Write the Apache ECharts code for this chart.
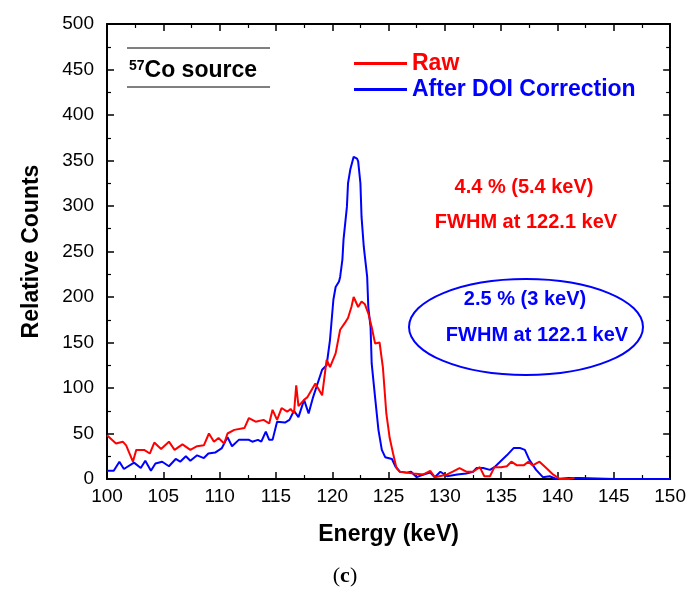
<!DOCTYPE html>
<html>
<head>
<meta charset="utf-8">
<script src="https://cdn.jsdelivr.net/npm/echarts@6/dist/echarts.min.js"></script>
<style>html,body{margin:0;padding:0;background:#fff}#c{width:689px;height:599px}</style>
</head>
<body>
<div id="c"></div>
<script>
// Energy (keV) and counts for the raw spectrum
const rawEnergy = [100.0,100.8,101.4,101.7,102.3,102.6,103.3,103.8,104.2,104.8,105.5,106.0,106.7,107.4,108.0,108.6,109.05,109.5,109.9,110.4,110.7,111.3,112.2,112.6,113.2,113.9,114.4,114.7,115.1,115.5,116.0,116.3,116.6,116.8,117.0,117.5,117.8,118.5,119.1,119.5,119.8,120.3,120.7,121.2,121.4,121.7,121.9,122.3,122.6,122.9,123.2,123.5,123.8,124.2,124.5,124.8,125.1,125.4,125.7,126.0,126.6,127.2,128.1,128.7,129.1,130.2,130.7,131.3,131.9,132.5,133.1,133.5,134.0,134.4,135.0,135.5,135.9,136.4,137.0,137.4,137.8,138.4,139.0,139.6,140.2,141.0,141.5];
const rawCounts = [48,39,41,37,19,32,32,28,40,33,41,32,38,32,36,37,50,41,45,39,50,54,56,67,63,65,61,76,65,78,74,77,72,103,80,87,90,105,92,131,123,138,164,173,177,189,200,189,195,192,182,167,149,150,122,72,45,28,12,8,7,6,5,9,2,5,8,12,8,8,13,3,3,13,13,14,19,15,15,19,15,19,12,5,0,0,1];
// Energy (keV) and counts after DOI correction
const doiEnergy = [100.0,100.6,101.1,101.5,102.4,103.0,103.4,103.9,104.3,104.9,105.5,106.1,106.5,107.0,107.4,108.0,108.6,109.0,109.6,110.2,110.7,111.1,111.7,112.6,112.9,113.4,113.7,114.1,114.4,114.7,115.1,115.8,116.2,116.6,117.0,117.5,117.9,118.3,119.1,119.5,119.8,120.1,120.3,120.6,120.7,120.9,121.0,121.3,121.4,121.6,121.9,122.2,122.3,122.5,122.6,122.8,123.1,123.2,123.4,123.5,123.8,124.1,124.4,124.7,125.3,125.6,126.0,126.6,127.0,127.5,128.1,128.7,129.1,129.6,130.2,131.1,131.9,132.5,132.8,133.4,134.0,134.4,134.9,135.5,136.1,136.7,137.1,137.5,138.1,138.7,139.3,139.9,141.0,142.0,145.0,150.0];
const doiCounts = [9,9,19,11,18,12,20,9,17,19,14,22,19,25,20,26,23,28,29,34,46,36,43,43,41,43,41,52,43,43,63,62,65,75,68,87,72,90,120,125,153,197,211,217,222,241,263,299,325,340,354,352,349,325,288,255,222,189,167,127,90,54,32,24,22,14,8,7,8,2,5,7,2,8,3,5,6,8,12,12,10,13,19,26,34,34,32,21,10,2,3,0,1,1,0,0];
const seriesNames = ['Raw','After DOI Correction'];
const xTicks = {min:100, max:150, interval:5};
const yTicks = {min:0, max:500, interval:50};

const zip = (a,b) => a.map((e,i)=>[e,b[i]]);
const FONT = 'Liberation Sans, Arial, sans-serif';
const chart = echarts.init(document.getElementById('c'), null, {renderer:'canvas'});
const axisBase = {
  axisLine:{show:true, onZero:false, lineStyle:{color:'#000', width:2}},
  axisTick:{show:true, inside:true, length:7, lineStyle:{color:'#000', width:1.5}},
  minorTick:{show:true, splitNumber:2, length:4, lineStyle:{color:'#000', width:1.2}},
  splitLine:{show:false}
};
chart.setOption({
  backgroundColor:'#fff',
  animation:false,
  grid:{left:107, right:18, top:24, bottom:120, containLabel:false},
  legend:{
    orient:'vertical', left:349, top:47, itemGap:3, itemWidth:53, itemHeight:3,
    icon:'rect',
    textStyle:{fontFamily:FONT, fontSize:23, fontWeight:'bold'},
    data:[
      {name:'Raw', textStyle:{color:'#ff0000'}},
      {name:'After DOI Correction', textStyle:{color:'#0000ff'}}
    ]
  },
  xAxis:[
    Object.assign({type:'value', position:'bottom', min:xTicks.min, max:xTicks.max, interval:xTicks.interval,
      name:'Energy (keV)', nameLocation:'middle', nameGap:44,
      nameTextStyle:{fontFamily:FONT, fontSize:23, fontWeight:'bold', color:'#000'},
      axisLabel:{fontFamily:FONT, fontSize:19, color:'#000', margin:8}}, axisBase),
    Object.assign({type:'value', position:'top', min:xTicks.min, max:xTicks.max, interval:xTicks.interval,
      axisLabel:{show:false}}, axisBase)
  ],
  yAxis:[
    Object.assign({type:'value', position:'left', min:yTicks.min, max:yTicks.max, interval:yTicks.interval,
      name:'Relative Counts', nameLocation:'middle', nameGap:64,
      nameTextStyle:{fontFamily:FONT, fontSize:23, fontWeight:'bold', color:'#000'},
      axisLabel:{fontFamily:FONT, fontSize:19, color:'#000', margin:13}}, axisBase),
    Object.assign({type:'value', position:'right', min:yTicks.min, max:yTicks.max, interval:yTicks.interval,
      axisLabel:{show:false}}, axisBase)
  ],
  series:[
    {name:seriesNames[0], type:'line', data:zip(rawEnergy, rawCounts), showSymbol:false, symbol:'none',
      lineStyle:{color:'#ff0000', width:2}, itemStyle:{color:'#ff0000'}, z:3},
    {name:seriesNames[1], type:'line', data:zip(doiEnergy, doiCounts), showSymbol:false, symbol:'none',
      lineStyle:{color:'#0000ff', width:2}, itemStyle:{color:'#0000ff'}, z:2}
  ],
  graphic:[
    {type:'line', shape:{x1:127, y1:48, x2:270, y2:48}, style:{stroke:'#000', lineWidth:1}},
    {type:'line', shape:{x1:127, y1:87, x2:270, y2:87}, style:{stroke:'#000', lineWidth:1}},
    {type:'text', left:129, top:59, style:{
      text:'{sup|57}{b|Co source}',
      rich:{
        sup:{fontFamily:FONT, fontSize:14, fontWeight:'bold', fill:'#000', verticalAlign:'top', padding:[0,0,10,0]},
        b:{fontFamily:FONT, fontSize:23, fontWeight:'bold', fill:'#000'}
      }}},
    {type:'text', x:524, y:187, style:{text:'4.4 % (5.4 keV)', fontFamily:FONT, fontSize:20, fontWeight:'bold', fill:'#ff0000', align:'center', verticalAlign:'middle'}},
    {type:'text', x:526, y:222, style:{text:'FWHM at 122.1 keV', fontFamily:FONT, fontSize:20, fontWeight:'bold', fill:'#ff0000', align:'center', verticalAlign:'middle'}},
    {type:'ellipse', shape:{cx:526, cy:327, rx:117, ry:48}, style:{fill:'none', stroke:'#0000ff', lineWidth:2}},
    {type:'text', x:525, y:299, style:{text:'2.5 % (3 keV)', fontFamily:FONT, fontSize:20, fontWeight:'bold', fill:'#0000ff', align:'center', verticalAlign:'middle'}},
    {type:'text', x:537, y:335, style:{text:'FWHM at 122.1 keV', fontFamily:FONT, fontSize:20, fontWeight:'bold', fill:'#0000ff', align:'center', verticalAlign:'middle'}},
    {type:'text', x:345, y:576, style:{text:'({c|c})', fontFamily:'Liberation Serif, serif', fontSize:22, fill:'#000', align:'center', verticalAlign:'middle',
      rich:{c:{fontFamily:'Liberation Serif, serif', fontSize:22, fontWeight:'bold', fill:'#000'}}}}
  ]
});
</script>
</body>
</html>
